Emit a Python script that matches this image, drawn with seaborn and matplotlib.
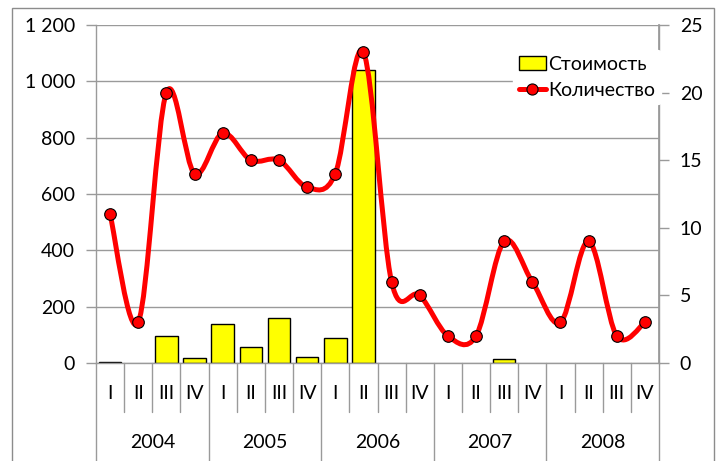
import numpy as np
import pandas as pd
import matplotlib
matplotlib.use("Agg")
import matplotlib.pyplot as plt
import seaborn as sns
from matplotlib.path import Path
from matplotlib.patches import PathPatch, Patch, Rectangle
from matplotlib.lines import Line2D
from matplotlib.ticker import FixedLocator, FuncFormatter

# ---- data ----
years = ["2004", "2005", "2006", "2007", "2008"]
quarters = ["I", "II", "III", "IV"]
cost = [4, 0, 95, 17, 140, 57, 160, 21, 89, 1040, 0, 0, 0, 0, 14, 0, 0, 0, 0, 0]
count = [11, 3, 20, 14, 17, 15, 15, 13, 14, 23, 6, 5, 2, 2, 9, 6, 3, 9, 2, 3]
left_ticks = [0, 200, 400, 600, 800, 1000, 1200]
right_ticks = [0, 5, 10, 15, 20, 25]
series_names = ["Стоимость", "Количество"]

periods = [f"{y} {q}" for y in years for q in quarters]
df = pd.DataFrame({"period": periods, "cost": cost, "count": count})

sns.set_theme(style="white")
FONT = ["Lato", "Noto Sans", "DejaVu Sans"]
plt.rcParams["font.family"] = FONT
plt.rcParams["text.color"] = "black"
FS = 14
GRID = "#9a9a9a"

W, H = 724, 461
fig = plt.figure(figsize=(W / 100, H / 100), dpi=100)
L, R, T, B = 96, 659, 25, 363
ax = fig.add_axes([L / W, (H - B) / H, (R - L) / W, (B - T) / H])

sns.barplot(data=df, x="period", y="cost", order=periods, color="#FFFF00",
            edgecolor="black", linewidth=1.0, width=0.8, saturation=1, ax=ax)
for p in ax.patches:
    if p.get_height() == 0:
        p.set_visible(False)

ax.set_xlim(-0.5, len(periods) - 0.5)
ax.set_ylim(0, 1200)
ax.yaxis.set_major_locator(FixedLocator(left_ticks))
ax.yaxis.set_major_formatter(FuncFormatter(lambda v, p: f"{int(v):,}".replace(",", " ")))
ax.grid(axis="y", color=GRID, linewidth=1.0)
ax.set_axisbelow(True)
ax.set_xlabel("")
ax.set_ylabel("")
ax.set_xticks([])
ax.spines["top"].set_visible(False)
for s in ["left", "bottom", "right"]:
    ax.spines[s].set_color(GRID)
    ax.spines[s].set_linewidth(1.0)
ax.tick_params(axis="y", direction="out", length=7, width=1, color=GRID,
               labelsize=FS, labelcolor="black", pad=8, left=True)

# multi-level category axis
tr = ax.get_xaxis_transform()
hpx = B - T
for i in range(len(periods) + 1):
    xpos = i - 0.5
    depth = 110 if i % 4 == 0 else 49
    ax.add_line(Line2D([xpos, xpos], [0, -depth / hpx], transform=tr,
                       color=GRID, linewidth=1.0, clip_on=False))
for i, per in enumerate(periods):
    q = per.split(" ")[1]
    ax.text(i, -30 / hpx, q, transform=tr, ha="center", va="center",
            fontsize=FS, color="black", clip_on=False)
for k, y in enumerate(years):
    ax.text(4 * k + 1.5, -79 / hpx, y, transform=tr, ha="center", va="center",
            fontsize=FS, color="black", clip_on=False)

# secondary axis with smoothed line
ax2 = ax.twinx()
ax2.set_ylim(0, 25)
ax2.yaxis.set_major_locator(FixedLocator(right_ticks))
ax2.tick_params(axis="y", direction="out", length=7, width=1, color=GRID,
                labelsize=FS, labelcolor="black", pad=8, right=True)
for s in ["top", "left", "bottom"]:
    ax2.spines[s].set_visible(False)
ax2.spines["right"].set_color(GRID)
ax2.grid(False)

xs = np.arange(len(periods), dtype=float)
ys = np.array(count, dtype=float)
pts = np.column_stack([xs, ys])
verts = [tuple(pts[0])]
codes = [Path.MOVETO]
n = len(pts)
for i in range(n - 1):
    p0 = pts[max(i - 1, 0)]
    p1 = pts[i]
    p2 = pts[i + 1]
    p3 = pts[min(i + 2, n - 1)]
    c1 = p1 + (p2 - p0) / 6.0
    c2 = p2 - (p3 - p1) / 6.0
    verts += [tuple(c1), tuple(c2), tuple(p2)]
    codes += [Path.CURVE4] * 3
ax2.add_patch(PathPatch(Path(verts, codes), facecolor="none", edgecolor="#FF0000",
                        linewidth=3.6, capstyle="round", joinstyle="round", zorder=3))
sns.scatterplot(x=xs, y=ys, ax=ax2, color="#FF0000", edgecolor="black",
                linewidth=0.8, s=70, zorder=4, legend=False)
ax2.set_xlim(-0.5, len(periods) - 0.5)
ax2.set_ylabel("")

handles = [Patch(facecolor="#FFFF00", edgecolor="black", linewidth=1.0),
           Line2D([], [], color="#FF0000", linewidth=3.6, marker="o",
                  markersize=8, markerfacecolor="#FF0000", markeredgecolor="black",
                  markeredgewidth=0.8)]
leg = ax2.legend(handles, series_names, loc="upper left",
                 bbox_to_anchor=(513 / W, (H - 50) / H), bbox_transform=fig.transFigure,
                 frameon=True, fontsize=FS, handlelength=1.4, handletextpad=0.1,
                 labelspacing=0.45, borderpad=0.3, borderaxespad=0)
leg.get_frame().set_facecolor("white")
leg.get_frame().set_edgecolor("white")
leg.get_frame().set_alpha(1)
leg.set_zorder(10)

# chart area border (bottom edge lies outside the image)
fig.add_artist(Rectangle((12 / W, -10 / H), (714 - 12) / W, (453 + 10) / H,
                         transform=fig.transFigure, fill=False,
                         edgecolor="#8c8c8c", linewidth=1.0))

fig.savefig("out.png", dpi=100)
